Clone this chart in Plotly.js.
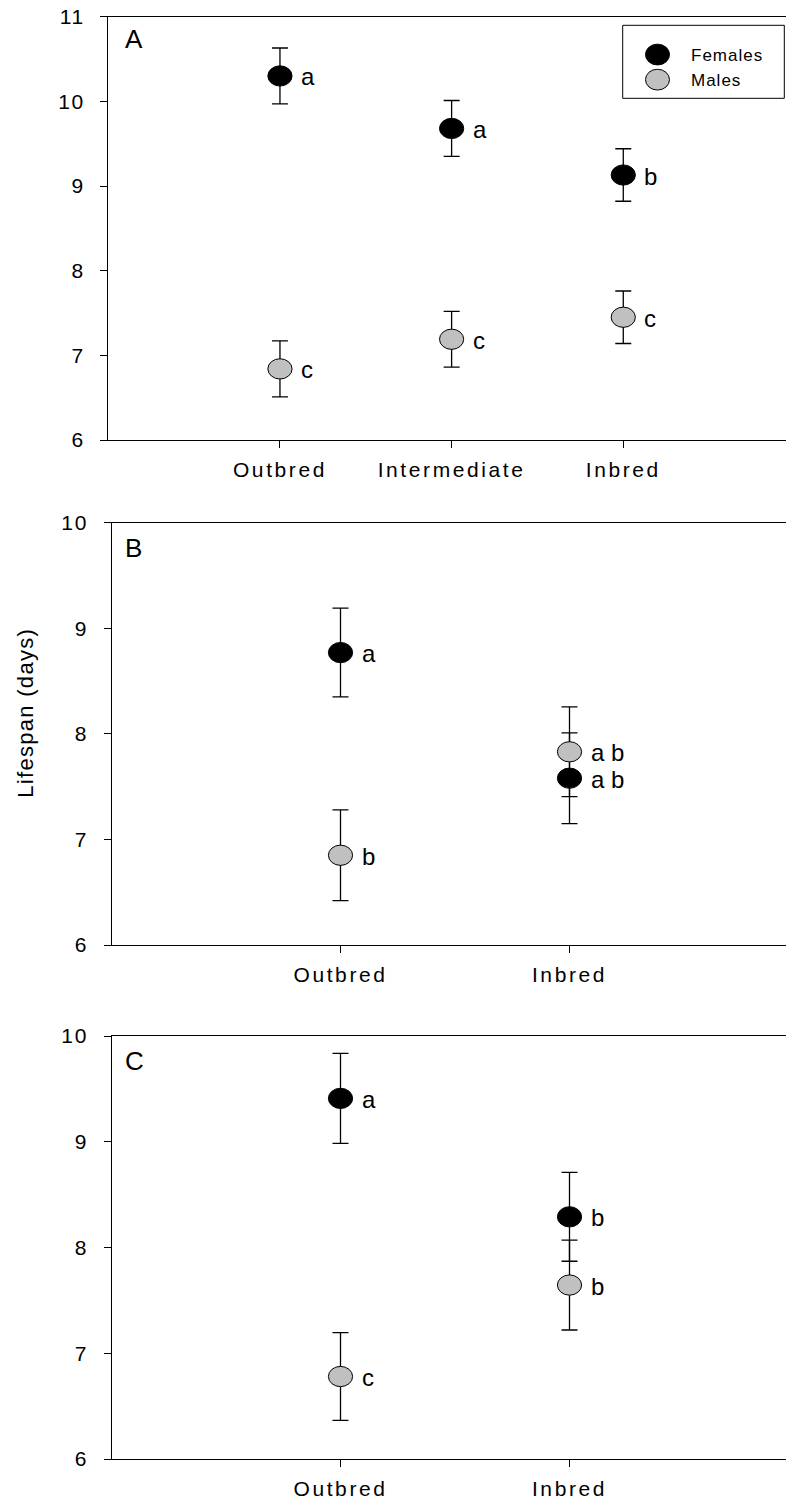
<!DOCTYPE html>
<html><head><meta charset="utf-8">
<script src="https://cdn.plot.ly/plotly-3.0.1.min.js"></script>
<style>
body{margin:0;padding:0;background:#fff}
#chart{width:786px;height:1502px}
.xtick text,.x2tick text,.x3tick text{letter-spacing:2.6px}
.ytick text,.y2tick text,.y3tick text{letter-spacing:1.8px}
.legendtext{letter-spacing:1px}
</style></head>
<body><div id="chart"></div>
<script>
// ---- data ----
const seriesNames = ['Females', 'Males'];
const catsA = ['Outbred', 'Intermediate', 'Inbred'];
const femA = [10.30, 9.68, 9.13];
const femAse = [0.33, 0.33, 0.31];
const femAlet = ['a', 'a', 'b'];
const maleA = [6.84, 7.19, 7.45];
const maleAse = [0.33, 0.33, 0.31];
const maleAlet = ['c', 'c', 'c'];

const catsB = ['Outbred', 'Inbred'];
const femB = [8.77, 7.58];
const femBse = [0.42, 0.43];
const femBlet = ['a', 'a b'];
const maleB = [6.85, 7.83];
const maleBse = [0.43, 0.425];
const maleBlet = ['b', 'a b'];

const catsC = ['Outbred', 'Inbred'];
const femC = [9.41, 8.29];
const femCse = [0.425, 0.42];
const femClet = ['a', 'b'];
const maleC = [6.78, 7.645];
const maleCse = [0.415, 0.425];
const maleClet = ['c', 'b'];

const yTicksA = [6, 7, 8, 9, 10, 11];
const yTicksBC = [6, 7, 8, 9, 10];
const panelLetters = ['A', 'B', 'C'];
const yTitle = 'Lifespan (days)';

// ---- styles ----
const FONT = 'Liberation Sans, Arial, Helvetica, sans-serif';
const femStyle = {color: '#000000', size: 22, line: {color: '#000000', width: 1}};
const maleStyle = {color: '#c0c0c0', size: 22, line: {color: '#000000', width: 1}};
const err = arr => ({type: 'data', array: arr, visible: true, color: '#000', thickness: 1.3, width: 8});

function tr(cats, y, se, name, mk, xa, ya, show) {
  return {type: 'scatter', mode: 'markers', x: cats, y: y, name: name, marker: mk,
    error_y: err(se), xaxis: xa, yaxis: ya, showlegend: show, cliponaxis: false};
}
const data = [
  tr(catsA, femA, femAse, seriesNames[0], femStyle, 'x', 'y', true),
  tr(catsA, maleA, maleAse, seriesNames[1], maleStyle, 'x', 'y', true),
  tr(catsB, femB, femBse, seriesNames[0], femStyle, 'x2', 'y2', false),
  tr(catsB, maleB, maleBse, seriesNames[1], maleStyle, 'x2', 'y2', false),
  tr(catsC, femC, femCse, seriesNames[0], femStyle, 'x3', 'y3', false),
  tr(catsC, maleC, maleCse, seriesNames[1], maleStyle, 'x3', 'y3', false)
];

const tickFont = {family: FONT, size: 21, color: '#000'};
function xax(cats, range, dom, anchor) {
  return {type: 'category', categoryarray: cats, range: range, domain: dom, anchor: anchor,
    showline: true, linecolor: '#000', linewidth: 1, mirror: true,
    ticks: 'outside', ticklen: 7, tickcolor: '#000', tickwidth: 1, ticklabelstandoff: 4,
    showgrid: false, zeroline: false, tickfont: tickFont, fixedrange: true};
}
function yax(range, ticks, dom, anchor) {
  return {range: range, tickvals: ticks, ticktext: ticks.map(String), domain: dom, anchor: anchor,
    showline: true, linecolor: '#000', linewidth: 1,
    ticks: 'outside', ticklen: 7, tickcolor: '#000', tickwidth: 1, ticklabelstandoff: 11,
    showgrid: false, zeroline: false, tickfont: tickFont, fixedrange: true};
}

const annotations = [];
function letters(cats, y, lets, xr, yr) {
  cats.forEach((c, i) => annotations.push({x: c, y: y[i], xref: xr, yref: yr, text: lets[i],
    showarrow: false, xanchor: 'left', yanchor: 'middle', xshift: 19, yshift: -1,
    font: {family: FONT, size: 24, color: '#000'}}));
}
letters(catsA, femA, femAlet, 'x', 'y');
letters(catsA, maleA, maleAlet, 'x', 'y');
letters(catsB, femB, femBlet, 'x2', 'y2');
letters(catsB, maleB, maleBlet, 'x2', 'y2');
letters(catsC, femC, femClet, 'x3', 'y3');
letters(catsC, maleC, maleClet, 'x3', 'y3');

const panelY = [1 - 38.5 / 1502, 1 - 547.8 / 1502, 1 - 1061 / 1502];
panelLetters.forEach((p, i) => annotations.push({text: p, xref: 'paper', yref: 'paper',
  x: 123 / 786, y: panelY[i], xanchor: 'left', yanchor: 'middle', showarrow: false,
  font: {family: FONT, size: 26, color: '#000'}}));

annotations.push({text: yTitle, xref: 'paper', yref: 'paper', x: 25 / 786, y: 1 - 713 / 1502,
  xanchor: 'center', yanchor: 'middle', textangle: -90, showarrow: false,
  font: {family: FONT, size: 22, color: '#000'}});

const layout = {
  width: 786, height: 1502, autosize: false,
  margin: {l: 0, r: 0, t: 0, b: 0, pad: 0},
  paper_bgcolor: '#fff', plot_bgcolor: '#fff',
  font: {family: FONT, color: '#000'},
  xaxis: xax(catsA, [-1, 2.948], [108.3 / 786, 1], 'y'),
  yaxis: yax([6, 11], yTicksA, [1 - 440 / 1502, 1 - 16.7 / 1502], 'x'),
  xaxis2: xax(catsB, [-1, 1.9454], [111.5 / 786, 1], 'y2'),
  yaxis2: yax([6, 10], yTicksBC, [1 - 945 / 1502, 1 - 522.7 / 1502], 'x2'),
  xaxis3: xax(catsC, [-1, 1.9454], [111.5 / 786, 1], 'y3'),
  yaxis3: yax([6, 10], yTicksBC, [1 - 1459 / 1502, 1 - 1036 / 1502], 'x3'),
  showlegend: true,
  legend: {x: 624 / 786, y: 1 - 37 / 1502, xanchor: 'left', yanchor: 'top',
    bgcolor: 'rgba(0,0,0,0)', borderwidth: 0, itemwidth: 57, tracegroupgap: 0,
    font: {family: FONT, size: 17, color: '#000'}},
  shapes: [{type: 'rect', xref: 'paper', yref: 'paper',
    x0: 622.7 / 786, x1: 784.3 / 786, y0: 1 - 98.3 / 1502, y1: 1 - 25.3 / 1502,
    line: {color: '#000', width: 1}, fillcolor: 'rgba(0,0,0,0)'}],
  annotations: annotations
};

Plotly.newPlot('chart', data, layout, {staticPlot: true, displayModeBar: false}).then(gd => {
  // elliptical markers like the original
  gd.querySelectorAll('.scatterlayer .points path.point').forEach(p => {
    p.setAttribute('transform', (p.getAttribute('transform') || '') + ' scale(1.1,0.92)');
    p.style.vectorEffect = 'non-scaling-stroke';
  });
  gd.querySelectorAll('.legend path.scatterpts').forEach(p => {
    p.setAttribute('transform', (p.getAttribute('transform') || '') + ' scale(1.5,1.3)');
    p.style.vectorEffect = 'non-scaling-stroke';
  });
  gd.querySelectorAll('.annotation-text').forEach(t => {
    if (t.textContent === yTitle) t.style.letterSpacing = '1.3px';
  });
});
</script>
</body></html>
